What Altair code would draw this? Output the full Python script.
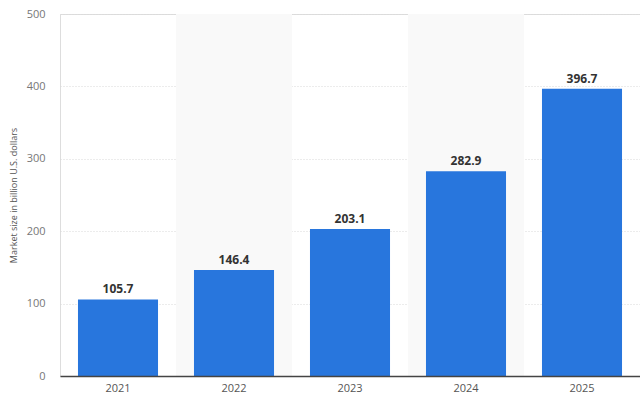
import altair as alt
import pandas as pd

years = ["2021", "2022", "2023", "2024", "2025"]
values = [105.7, 146.4, 203.1, 282.9, 396.7]
shaded_years = ["2022", "2024"]

df = pd.DataFrame({"year": years, "value": values, "label": [f"{v:.1f}" for v in values]})
shade = pd.DataFrame({"year": shaded_years})

FONT = "Open Sans"

x_enc = alt.X("year:N", sort=years, scale=alt.Scale(domain=years, paddingInner=0, paddingOuter=0),
              axis=alt.Axis(title=None, labelAngle=0, labelFontSize=11, labelColor="#555",
                            labelPadding=6, ticks=False, domain=True, domainColor="#444",
                            domainWidth=1.5, grid=False, labelFont=FONT))
y_scale = alt.Scale(domain=[0, 500])

bands = alt.Chart(shade).mark_rect(color="#f9f9f9").encode(
    x=x_enc,
    y=alt.value(0),
    y2=alt.value(362),
)

bars = alt.Chart(df).mark_bar(color="#2876DD", width={"band": 0.69}).encode(
    x=alt.X("year:N", sort=years),
    y=alt.Y("value:Q", scale=y_scale,
            axis=alt.Axis(title="Market size in billion U.S. dollars", titleFontSize=9,
                          titleFontWeight="normal", titleColor="#555", titleFont=FONT,
                          titleX=-42, values=[0, 100, 200, 300, 400, 500],
                          labelFontSize=11, labelColor="#777", labelPadding=15, labelFont=FONT,
                          ticks=False, domain=False, grid=True, gridColor="#d8d8d8",
                          gridDash=[1, 2], gridWidth=1)),
)

text = alt.Chart(df).mark_text(dy=-10, fontSize=12, fontWeight="bold", color="#333", font=FONT).encode(
    x=alt.X("year:N", sort=years),
    y=alt.Y("value:Q", scale=y_scale),
    text="label:N",
)

chart = alt.layer(bands, bars, text).properties(
    width=580, height=362,
    padding={"left": 60, "top": 14, "right": 0, "bottom": 23},
    autosize=alt.AutoSizeParams(type="none"),
).configure_view(strokeWidth=0).configure(background="white")

chart.save("out.html", embed_options={"renderer": "svg", "actions": False})
